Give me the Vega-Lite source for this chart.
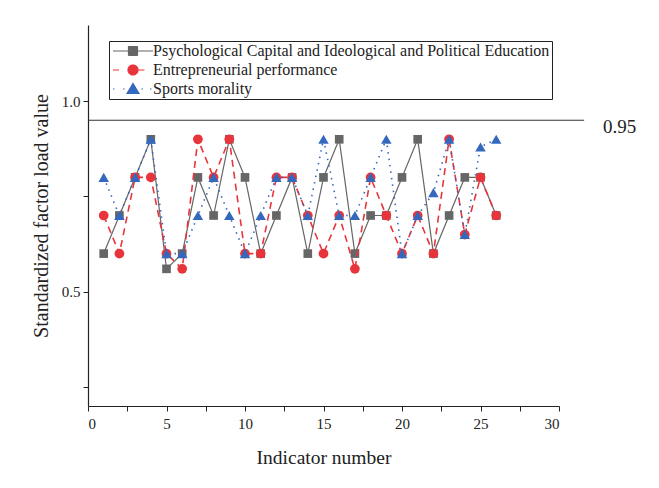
{
  "$schema": "https://vega.github.io/schema/vega-lite/v6.json",
  "width": 471,
  "height": 381,
  "autosize": {"type": "none"},
  "padding": {"left": 88, "top": 25, "right": 100, "bottom": 82},
  "background": "white",
  "config": {
    "view": {"stroke": null},
    "font": "Liberation Serif",
    "axis": {
      "labelFont": "Liberation Serif",
      "titleFont": "Liberation Serif",
      "labelColor": "#222",
      "titleColor": "#222",
      "domainColor": "#222",
      "tickColor": "#222",
      "grid": false,
      "labelFontSize": 15,
      "titleFontSize": 19.5,
      "titleFontWeight": "normal",
      "tickSize": 5,
      "domainWidth": 1.2
    },
    "legend": {
      "labelFont": "Liberation Serif",
      "labelFontSize": 16,
      "labelColor": "#222",
      "labelLimit": 600
    }
  },
  "datasets": {
    "d": [
      {"s": "Psychological Capital and Ideological and Political Education", "x": 1, "y": 0.6},
      {"s": "Psychological Capital and Ideological and Political Education", "x": 2, "y": 0.7},
      {"s": "Psychological Capital and Ideological and Political Education", "x": 3, "y": 0.8},
      {"s": "Psychological Capital and Ideological and Political Education", "x": 4, "y": 0.9},
      {"s": "Psychological Capital and Ideological and Political Education", "x": 5, "y": 0.56},
      {"s": "Psychological Capital and Ideological and Political Education", "x": 6, "y": 0.6},
      {"s": "Psychological Capital and Ideological and Political Education", "x": 7, "y": 0.8},
      {"s": "Psychological Capital and Ideological and Political Education", "x": 8, "y": 0.7},
      {"s": "Psychological Capital and Ideological and Political Education", "x": 9, "y": 0.9},
      {"s": "Psychological Capital and Ideological and Political Education", "x": 10, "y": 0.8},
      {"s": "Psychological Capital and Ideological and Political Education", "x": 11, "y": 0.6},
      {"s": "Psychological Capital and Ideological and Political Education", "x": 12, "y": 0.7},
      {"s": "Psychological Capital and Ideological and Political Education", "x": 13, "y": 0.8},
      {"s": "Psychological Capital and Ideological and Political Education", "x": 14, "y": 0.6},
      {"s": "Psychological Capital and Ideological and Political Education", "x": 15, "y": 0.8},
      {"s": "Psychological Capital and Ideological and Political Education", "x": 16, "y": 0.9},
      {"s": "Psychological Capital and Ideological and Political Education", "x": 17, "y": 0.6},
      {"s": "Psychological Capital and Ideological and Political Education", "x": 18, "y": 0.7},
      {"s": "Psychological Capital and Ideological and Political Education", "x": 19, "y": 0.7},
      {"s": "Psychological Capital and Ideological and Political Education", "x": 20, "y": 0.8},
      {"s": "Psychological Capital and Ideological and Political Education", "x": 21, "y": 0.9},
      {"s": "Psychological Capital and Ideological and Political Education", "x": 22, "y": 0.6},
      {"s": "Psychological Capital and Ideological and Political Education", "x": 23, "y": 0.7},
      {"s": "Psychological Capital and Ideological and Political Education", "x": 24, "y": 0.8},
      {"s": "Psychological Capital and Ideological and Political Education", "x": 25, "y": 0.8},
      {"s": "Psychological Capital and Ideological and Political Education", "x": 26, "y": 0.7},
      {"s": "Entrepreneurial performance", "x": 1, "y": 0.7},
      {"s": "Entrepreneurial performance", "x": 2, "y": 0.6},
      {"s": "Entrepreneurial performance", "x": 3, "y": 0.8},
      {"s": "Entrepreneurial performance", "x": 4, "y": 0.8},
      {"s": "Entrepreneurial performance", "x": 5, "y": 0.6},
      {"s": "Entrepreneurial performance", "x": 6, "y": 0.56},
      {"s": "Entrepreneurial performance", "x": 7, "y": 0.9},
      {"s": "Entrepreneurial performance", "x": 8, "y": 0.8},
      {"s": "Entrepreneurial performance", "x": 9, "y": 0.9},
      {"s": "Entrepreneurial performance", "x": 10, "y": 0.6},
      {"s": "Entrepreneurial performance", "x": 11, "y": 0.6},
      {"s": "Entrepreneurial performance", "x": 12, "y": 0.8},
      {"s": "Entrepreneurial performance", "x": 13, "y": 0.8},
      {"s": "Entrepreneurial performance", "x": 14, "y": 0.7},
      {"s": "Entrepreneurial performance", "x": 15, "y": 0.6},
      {"s": "Entrepreneurial performance", "x": 16, "y": 0.7},
      {"s": "Entrepreneurial performance", "x": 17, "y": 0.56},
      {"s": "Entrepreneurial performance", "x": 18, "y": 0.8},
      {"s": "Entrepreneurial performance", "x": 19, "y": 0.7},
      {"s": "Entrepreneurial performance", "x": 20, "y": 0.6},
      {"s": "Entrepreneurial performance", "x": 21, "y": 0.7},
      {"s": "Entrepreneurial performance", "x": 22, "y": 0.6},
      {"s": "Entrepreneurial performance", "x": 23, "y": 0.9},
      {"s": "Entrepreneurial performance", "x": 24, "y": 0.65},
      {"s": "Entrepreneurial performance", "x": 25, "y": 0.8},
      {"s": "Entrepreneurial performance", "x": 26, "y": 0.7},
      {"s": "Sports morality", "x": 1, "y": 0.8},
      {"s": "Sports morality", "x": 2, "y": 0.7},
      {"s": "Sports morality", "x": 3, "y": 0.8},
      {"s": "Sports morality", "x": 4, "y": 0.9},
      {"s": "Sports morality", "x": 5, "y": 0.6},
      {"s": "Sports morality", "x": 6, "y": 0.6},
      {"s": "Sports morality", "x": 7, "y": 0.7},
      {"s": "Sports morality", "x": 8, "y": 0.8},
      {"s": "Sports morality", "x": 9, "y": 0.7},
      {"s": "Sports morality", "x": 10, "y": 0.6},
      {"s": "Sports morality", "x": 11, "y": 0.7},
      {"s": "Sports morality", "x": 12, "y": 0.8},
      {"s": "Sports morality", "x": 13, "y": 0.8},
      {"s": "Sports morality", "x": 14, "y": 0.7},
      {"s": "Sports morality", "x": 15, "y": 0.9},
      {"s": "Sports morality", "x": 16, "y": 0.7},
      {"s": "Sports morality", "x": 17, "y": 0.7},
      {"s": "Sports morality", "x": 18, "y": 0.8},
      {"s": "Sports morality", "x": 19, "y": 0.9},
      {"s": "Sports morality", "x": 20, "y": 0.6},
      {"s": "Sports morality", "x": 21, "y": 0.7},
      {"s": "Sports morality", "x": 22, "y": 0.76},
      {"s": "Sports morality", "x": 23, "y": 0.9},
      {"s": "Sports morality", "x": 24, "y": 0.65},
      {"s": "Sports morality", "x": 25, "y": 0.88},
      {"s": "Sports morality", "x": 26, "y": 0.9}
    ],
    "ref": [{"y": 0.95, "x": 0, "x2": 31.6, "label": "0.95", "tx": 32.8}]
  },
  "encoding": {
    "x": {"field": "x", "type": "quantitative", "scale": {"domain": [0, 30], "nice": false},
      "axis": {"title": "Indicator number", "values": [0, 2.5, 5, 7.5, 10, 12.5, 15, 17.5, 20, 22.5, 25, 27.5, 30],
        "labelExpr": "datum.value % 5 == 0 ? datum.label : ''", "labelPadding": 5, "titlePadding": 17, "format": "d"}},
    "y": {"field": "y", "type": "quantitative", "scale": {"domain": [0.2, 1.2], "nice": false},
      "axis": {"title": "Standardized factor load value", "titleFontSize": 20, "values": [0.25, 0.5, 0.75, 1.0], "format": ".1f",
        "labelExpr": "datum.value == 0.5 || datum.value == 1 ? datum.label : ''", "labelPadding": 3, "titlePadding": 10}}
  },
  "layer": [
    {
      "data": {"name": "d"},
      "encoding": {
        "color": {"field": "s", "type": "nominal",
          "scale": {"domain": ["Psychological Capital and Ideological and Political Education", "Entrepreneurial performance", "Sports morality"],
            "range": ["#666666", "#e8353b", "#3468bd"]},
          "legend": {"title": null, "orient": "none", "legendX": 21, "legendY": 16, "strokeColor": "#222", "fillColor": "white",
            "padding": 2, "rowPadding": 3, "symbolSize": 100, "symbolOffset": 14, "labelOffset": 12, "symbolStrokeWidth": 1.2,
            "symbolDash": [1, 0]}}
      },
      "layer": [
        {
          "transform": [{"filter": "datum.s == 'Psychological Capital and Ideological and Political Education'"}],
          "layer": [
            {"mark": {"type": "line", "strokeWidth": 1.2, "color": "#555555"},
              "encoding": {"shape": {"field": "s", "type": "nominal",
                "scale": {"domain": ["Psychological Capital and Ideological and Political Education", "Entrepreneurial performance", "Sports morality"],
                  "range": ["M-4,0H4M-0.9,-0.9H0.9V0.9H-0.9Z", "M-4,0H-2.8M1,0H2.3M1,0A1,1 0 1,1 -1,0A1,1 0 1,1 1,0Z", "M-4,0H-3.7M-2,0H-1.7M1.7,0H2M3.4,0H3.7M0,-1.1L1.2,0.9H-1.2Z"]},
                "legend": {"title": null, "orient": "none", "legendX": 21, "legendY": 16, "strokeColor": "#222", "fillColor": "white",
                  "padding": 2, "rowPadding": 3, "symbolSize": 100, "symbolOffset": 14, "labelOffset": 12, "symbolStrokeWidth": 1.2,
                  "symbolDash": [1, 0]}}}},
            {"mark": {"type": "point", "filled": true, "opacity": 1, "size": 75}, "encoding": {"shape": {"value": "square"}}}
          ]
        },
        {
          "transform": [{"filter": "datum.s == 'Entrepreneurial performance'"}],
          "layer": [
            {"mark": {"type": "line", "strokeWidth": 1.6, "strokeDash": [7, 5]}},
            {"mark": {"type": "point", "filled": true, "opacity": 1, "size": 95}, "encoding": {"shape": {"value": "circle"}}}
          ]
        },
        {
          "transform": [{"filter": "datum.s == 'Sports morality'"}],
          "layer": [
            {"mark": {"type": "line", "strokeWidth": 1.6, "strokeDash": [1.5, 5]}},
            {"mark": {"type": "point", "filled": true, "opacity": 1, "size": 110}, "encoding": {"shape": {"value": "triangle-up"}}}
          ]
        }
      ]
    },
    {
      "data": {"name": "ref"},
      "layer": [
        {
          "mark": {"type": "rule", "color": "#333", "strokeWidth": 1.2},
          "encoding": {
            "x": {"field": "x", "type": "quantitative"},
            "x2": {"field": "x2"},
            "y": {"field": "y", "type": "quantitative"}
          }
        },
        {
          "mark": {"type": "text", "align": "left", "baseline": "middle", "dy": 7, "fontSize": 19, "font": "Liberation Serif", "color": "#222"},
          "encoding": {
            "x": {"field": "tx", "type": "quantitative"},
            "y": {"field": "y", "type": "quantitative"},
            "text": {"field": "label"}
          }
        }
      ]
    }
  ]
}
